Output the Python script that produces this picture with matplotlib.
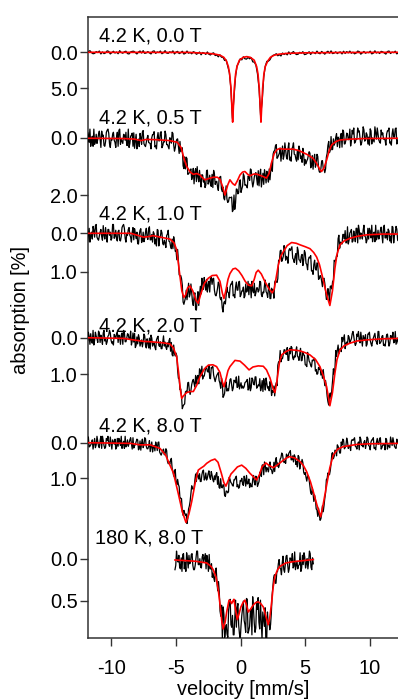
import numpy as np
import matplotlib
matplotlib.use("Agg")
import matplotlib.pyplot as plt

plt.rcParams['font.family'] = ['Liberation Sans', 'DejaVu Sans']

# ---------------- data ----------------
labels = ["4.2 K, 0.0 T", "4.2 K, 0.5 T", "4.2 K, 1.0 T", "4.2 K, 2.0 T", "4.2 K, 8.0 T", "180 K, 8.0 T"]
yticks = [[0.0, 5.0], [0.0, 2.0], [0.0, 1.0], [0.0, 1.0], [0.0, 1.0], [0.0, 0.5]]
xticks = [-10, -5, 0, 5, 10]

# measured absorption [%]; "_a" = even channels, "_b" = odd channels (interleaved)
abs_4K_0T_a = [
    .13, -.08, -.23, .05, .20, .15, -.10, .03, -.18, .23,
    -.05, .18, .08, -.20, -.13, .23, .05, -.15, .10, -.03,
    .20, -.23, .03, .13, -.08, -.15, .18, .23, -.05, -.13,
    -.15, .05, .23, -.03, -.18, .10, -.23, .15, .08, -.10,
    .08, .23, -.13, -.20, .15, -.05, .03, -.18, .20, .05,
    -.23, .10, .15, -.08, .05, -.20, .23, -.03, -.13, .18,
    .06, -.15, .24, .14, -.18, .13, .01, .21, -.08, .00,
    .27, .15, -.04, .35, .03, .11, .29, -.05, .28, .37,
    .15, .08, .45, .38, .63, .35, .68, .70, 1.13, 1.07,
    1.95, 2.77, 4.92, 9.20, 6.32, 3.33, 1.87, 1.45, 0.90, 1.05,
    .62, .90, .95, .72, .90, .75, 1.33, 1.37, 1.77, 2.98,
    5.00, 8.77, 6.83, 3.43, 1.92, 1.25, 1.23, 1.03, .60, .42,
    .35, .20, .48, .33, .51, .10, .30, .15, .36, -.06,
    .28, .06, -.10, .17, .32, .26, .00, .13, -.09, .32,
    .26, .13, -.08, .30, -.03, .03, .19, -.17, .13, .20,
    -.12, .08, .26, .00, -.15, .13, -.20, .18, .11, -.07,
    .18, .00, -.05, .23, -.15, .16, -.10, .08, -.17, .13,
    -.02, .21, .11, -.17, -.10, .26, .08, -.12, .13, .00,
    .05, -.16, .22, .12, -.21, .10, -.03, .17, -.13, -.06,
    .10, .25, -.11, -.18, .17, -.03, .05, -.16, .22, .07]
abs_4K_0T_b = None

abs_4K_05T_a = [
    .20, -.09, -.30, .09, .30, .23, -.12, .06, -.23, .34,
    -.05, .27, .13, -.26, -.16, .34, .09, -.19, .16, -.02,
    .30, -.30, .06, .20, -.09, -.19, .27, .34, -.05, -.16,
    -.17, .12, .39, .05, -.15, .23, -.25, .27, .17, -.08,
    .18, .39, -.11, -.21, .28, .00, .11, -.18, .35, .15,
    -.23, .24, .31, .00, .19, -.15, .47, .14, .04, .55,
    .49, .35, 1.08, 1.09, .73, 1.26, 1.13, 1.46, 1.07, 1.19,
    1.53, 1.37, 1.14, 1.72, 1.31, 1.46, 1.66, 1.13, 1.53, 1.63,
    1.28, 1.14, 1.63, 1.52, 1.84, 1.37, 1.79, 1.73, 2.17, 1.68,
    2.26, 2.08, 2.09, 2.58, 2.00, 2.28, 1.80, 1.92, 1.47, 1.79,
    1.26, 1.66, 1.69, 1.34, 1.49, 1.12, 1.72, 1.36, 1.22, 1.65,
    1.68, 1.10, 1.49, 1.63, 1.31, 1.17, 1.55, 1.47, .88, .57,
    .46, .24, .68, .54, .82, .29, .61, .43, .75, .18,
    .68, .39, .18, .59, .82, .77, .44, .64, .37, .96,
    .91, .75, .49, 1.05, .62, .76, 1.03, .58, 1.06, 1.21,
    .81, 1.07, 1.22, .68, .27, .52, -.04, .41, .26, -.02,
    .31, .04, -.05, .33, -.21, .21, -.16, .07, -.30, .10,
    -.13, .19, .05, -.34, -.24, .26, .01, -.27, .08, -.10,
    -.02, -.31, .22, .08, -.38, .05, -.13, .15, -.27, -.17,
    .05, .26, -.24, -.34, .15, -.13, -.02, -.31, .22, .01]
abs_4K_05T_b = [
    -.19, .16, .30, -.05, -.30, .13, .20, -.12, .06, -.23,
    -.09, .30, -.19, -.30, .20, .06, -.12, .09, .34, -.19,
    -.26, .23, .13, -.12, .09, .27, -.30, .20, -.09, .30,
    .37, -.12, .15, .31, -.01, -.20, .21, .31, .02, .17,
    .21, .00, -.11, .32, .39, -.18, .11, -.21, .28, .15,
    -.11, .24, .39, .05, -.19, .25, .35, .06, .30, .13,
    .42, .98, .67, .68, 1.28, 1.22, 1.09, 1.34, 1.61, 1.08,
    1.01, 1.54, 1.49, 1.29, 1.55, 1.74, 1.15, 1.62, 1.31, 1.70,
    1.74, 1.26, 1.54, 1.71, 1.44, 1.35, 1.88, 2.11, 1.92, 2.14,
    2.23, 2.09, 2.07, 2.53, 2.50, 1.79, 1.96, 1.52, 1.91, 1.69,
    1.34, 1.64, 1.75, 1.37, 1.09, 1.51, 1.58, 1.26, 1.44, 1.15,
    1.30, 1.72, 1.24, 1.12, 1.58, 1.38, 1.09, 1.12, 1.17, .47,
    .28, .72, .61, .36, .57, .75, .18, .68, .39, .78,
    .82, .32, .58, .74, .44, .29, .73, .86, .59, .76,
    .81, .62, .54, 1.00, 1.10, .58, .92, .65, 1.19, 1.08,
    .80, 1.09, 1.09, .55, .13, .44, .42, .04, .18, -.14,
    -.02, .35, -.15, -.27, .22, .07, -.13, .06, .29, -.26,
    -.34, .15, .05, -.20, .01, .19, -.38, .12, -.17, .22,
    .26, -.24, .01, .15, -.17, -.34, .08, .19, -.10, .05,
    .08, -.13, -.24, .19, .26, -.31, -.02, -.34, .15, .01]

abs_4K_1T_a = [
    -.15, .05, .23, -.03, -.18, .10, -.23, .15, .08, -.10,
    .18, .05, -.15, .23, -.10, -.03, .13, -.23, .08, .15,
    -.05, .18, .08, -.20, -.13, .23, .05, -.15, .10, -.03,
    .17, .00, -.03, .28, -.08, .24, -.03, .13, -.13, .16,
    -.17, .17, .23, .01, .15, -.10, .33, .08, -.01, .30,
    .26, .06, -.08, .22, .40, .40, .22, .45, .42, 1.08,
    1.10, 1.35, 1.85, 1.68, 1.73, 1.30, 1.58, 1.55, 1.88, 1.55,
    2.00, 1.52, 1.63, 1.58, 1.27, 1.15, 1.48, 1.53, 1.25, 1.17,
    1.33, 1.17, 1.60, 1.55, 1.27, 1.66, 1.67, 2.05, 1.77, 1.62,
    1.53, 1.68, 1.32, 1.25, 1.60, 1.40, 1.48, 1.27, 1.65, 1.50,
    1.40, 1.63, 1.53, 1.25, 1.32, 1.68, 1.50, 1.30, 1.55, 1.42,
    1.48, 1.27, 1.65, 1.55, 1.22, 1.56, 1.45, 1.70, 1.43, 1.47,
    1.27, 1.25, 1.18, .72, .44, .68, .32, .70, .63, .45,
    .45, .35, .68, .60, .81, .45, .70, .59, .84, .45,
    .78, .95, .62, .58, .97, .81, .93, .77, 1.20, 1.10,
    1.25, 1.19, 1.30, 1.72, 1.44, 1.78, 1.37, 1.25, .70, .70,
    .60, .05, .23, .28, .03, -.07, .24, .28, -.01, -.10,
    .20, .07, -.13, .25, -.08, -.01, .15, -.21, .10, .17,
    .15, -.06, -.21, .07, .22, .17, -.08, .05, -.16, .25,
    -.21, .12, .17, -.06, .07, -.18, .25, -.01, -.11, .20]
abs_4K_1T_b = [
    .23, -.13, .05, .15, -.08, -.20, .10, .18, -.03, .08,
    -.20, .15, .08, -.10, .05, .18, -.23, .13, -.08, .20,
    -.08, .20, -.15, -.23, .13, .03, -.10, .05, .23, -.15,
    -.12, .14, .27, .04, -.12, .19, .22, -.02, .10, -.12,
    .17, .03, -.04, .28, .33, -.08, .14, -.08, .27, .18,
    .37, .02, .21, .34, .15, .09, .47, .69, .70, 1.11,
    1.18, 1.79, 1.77, 1.48, 1.53, 1.66, 1.32, 1.78, 1.66, 1.99,
    1.70, 1.88, 1.38, 1.17, 1.46, 1.33, 1.20, 1.35, 1.53, 1.15,
    1.18, 1.48, 1.63, 1.43, 1.31, 1.73, 1.94, 1.81, 1.84, 1.40,
    1.55, 1.40, 1.32, 1.63, 1.68, 1.27, 1.48, 1.25, 1.60, 1.50,
    1.68, 1.32, 1.50, 1.60, 1.37, 1.25, 1.55, 1.63, 1.42, 1.53,
    1.25, 1.60, 1.53, 1.35, 1.52, 1.67, 1.30, 1.70, 1.49, 1.69,
    1.23, 1.28, .70, .46, .73, .60, .45, .60, .78, .40,
    .40, .65, .76, .53, .36, .69, .76, .55, .70, .51,
    .81, .69, .64, .98, 1.07, .70, .96, .78, 1.18, 1.13,
    1.39, 1.17, 1.50, 1.72, 1.56, 1.38, 1.45, 1.23, .72, .58,
    .14, .39, .26, .03, .15, .25, -.17, .18, -.04, .23,
    -.06, .22, -.13, -.21, .15, .05, -.08, .07, .25, -.13,
    -.13, .12, .22, -.03, -.21, .10, .15, -.08, .05, -.16,
    .12, -.03, -.11, .20, .25, -.16, .05, -.18, .17, .07]

abs_4K_2T_a = [
    .02, -.15, .18, .09, -.20, .07, -.04, .13, -.13, -.07,
    .18, -.20, .02, .11, -.07, -.13, .15, .20, -.04, -.11,
    .13, -.02, -.07, .18, -.15, .11, -.11, .04, -.18, .09,
    .12, .27, -.02, -.08, .23, .06, .12, -.05, .28, .14,
    .01, -.07, .23, .14, .33, .00, .21, .11, .30, -.05,
    .12, .32, .25, .02, .13, .50, .44, .42, .89, 1.13,
    1.40, 1.94, 1.83, 1.48, 1.49, 1.22, 1.55, 1.28, 1.14, 1.35,
    1.26, 1.03, .85, 1.04, 1.13, 1.05, .81, .92, .75, 1.12,
    .82, 1.02, 1.20, 1.03, .95, 1.24, 1.10, 1.63, 1.52, 1.21,
    1.40, 1.29, 1.12, 1.45, 1.16, 1.23, 1.36, 1.05, 1.32, 1.38,
    1.38, 1.23, 1.18, 1.43, 1.10, 1.36, 1.14, 1.29, 1.07, 1.34,
    1.32, 1.45, 1.17, 1.12, 1.43, 1.26, 1.34, 1.20, 1.58, 1.49,
    1.59, 1.23, .75, .66, .66, .57, .33, .44, .27, .62,
    .44, .27, .60, .53, .25, .53, .44, .63, .39, .48,
    .75, .40, .64, .76, .61, .59, .91, 1.00, .81, .81,
    .89, .87, 1.31, 1.37, 1.75, 1.59, 1.67, 1.16, 1.00, .35,
    .34, .43, .29, -.01, .02, .30, .12, -.06, .15, .03,
    -.17, .12, .16, -.04, .07, -.15, .23, .01, -.08, .18,
    -.10, .07, .23, .01, -.12, .12, -.17, .16, .10, -.06,
    .18, .07, -.10, .23, -.06, .01, .14, -.17, .10, .16]
abs_4K_2T_b = [
    .09, -.04, -.11, .15, .20, -.15, .02, -.18, .13, .04,
    -.13, .09, .18, -.04, -.20, .07, .11, -.09, .02, -.15,
    -.07, .18, -.13, -.20, .11, .02, -.09, .04, .20, -.13,
    -.12, .21, .17, .01, .14, .25, -.10, .21, .03, .28,
    .31, .01, .16, .26, .06, -.04, .24, .30, .13, .23,
    .26, .14, .08, .37, .47, .20, .50, .50, 1.11, 1.42,
    1.60, 1.87, 1.81, 1.46, 1.23, 1.45, 1.44, 1.19, 1.25, 1.03,
    1.06, 1.26, .90, .78, 1.05, .93, .81, .94, 1.11, .81,
    .79, 1.12, 1.10, .99, 1.17, 1.38, 1.20, 1.59, 1.31, 1.46,
    1.45, 1.14, 1.29, 1.38, 1.18, 1.07, 1.34, 1.40, 1.23, 1.32,
    1.34, 1.21, 1.14, 1.40, 1.45, 1.10, 1.27, 1.07, 1.38, 1.29,
    1.12, 1.36, 1.47, 1.26, 1.10, 1.38, 1.45, 1.29, 1.45, 1.32,
    1.32, 1.31, .66, .35, .57, .45, .33, .46, .62, .29,
    .24, .55, .50, .36, .50, .62, .29, .62, .47, .74,
    .79, .50, .68, .80, .63, .56, .87, .98, .87, 1.02,
    1.11, 1.09, 1.17, 1.60, 1.84, 1.51, 1.42, .85, .83, .51,
    .20, .34, .38, .11, -.08, .16, .19, -.02, .08, -.11,
    -.04, .21, -.10, -.17, .14, .05, -.06, .07, .23, -.10,
    -.15, .16, .10, -.06, .07, .18, -.17, .14, -.04, .21,
    .23, -.08, .07, .16, -.04, -.15, .12, .18, .01, .10]

abs_4K_8T_a = [
    -.08, -.16, .10, .02, .18, -.12, .06, -.04, .14, -.18,
    -.18, .08, .12, -.06, .04, -.16, .18, -.02, -.10, .14,
    .10, -.06, -.18, .04, .16, .12, -.08, .02, -.14, .18,
    .15, .05, -.10, .20, -.05, .01, .14, -.14, .11, .17,
    -.06, .11, .26, .08, -.02, .22, -.02, .31, .28, .18,
    .32, .22, .59, .60, .44, .80, .82, 1.12, 1.03, 1.24,
    1.56, 1.93, 1.90, 2.04, 2.27, 1.86, 1.64, 1.21, 1.31, 1.06,
    1.09, .92, .87, 1.09, .80, 1.05, .85, .99, .79, 1.03,
    .91, 1.10, 1.04, .84, .95, 1.28, 1.24, 1.18, 1.48, 1.36,
    1.41, .97, 1.12, 1.20, 1.04, .98, 1.24, 1.28, 1.06, 1.00,
    1.20, 1.04, .92, 1.14, 1.26, 1.22, 1.02, 1.12, .94, 1.23,
    1.09, .86, .63, .90, .64, .70, .82, .54, .76, .80,
    .81, .42, .57, .62, .42, .33, .56, .58, .36, .30,
    .22, .48, .54, .39, .52, .36, .74, .58, .56, .89,
    .97, .93, 1.04, 1.41, 1.26, 1.65, 1.60, 1.89, 1.84, 2.18,
    2.01, 1.94, 1.56, 1.04, .85, .90, .59, .28, .38, .22,
    .06, .18, .29, .07, -.07, .14, -.13, .16, .10, -.05,
    -.06, -.14, .12, .04, .20, -.10, .08, -.02, .16, -.16,
    .08, .20, -.08, -.14, .14, -.02, .04, -.12, .18, .06,
    .04, -.12, .18, .10, -.16, .08, -.02, .14, -.10, -.04]
abs_4K_8T_b = [
    -.16, .12, .06, -.08, .04, .14, -.18, .10, -.06, .16,
    -.06, .16, -.12, -.18, .10, .02, -.08, .04, .18, -.12,
    -.12, .08, .16, -.04, -.18, .06, .10, -.08, .02, -.14,
    .09, -.02, -.08, .17, .21, -.10, .06, -.11, .17, .10,
    .25, -.02, .13, .23, .07, -.01, .26, .35, .22, .34,
    .17, .52, .54, .49, .72, .94, .75, 1.18, 1.17, 1.56,
    1.57, 2.04, 1.98, 2.00, 2.13, 1.78, 1.41, 1.29, 1.27, .88,
    .84, 1.02, 1.09, .90, .77, 1.01, 1.05, .87, .97, .81,
    1.04, .93, .89, 1.17, 1.26, 1.01, 1.27, 1.19, 1.51, 1.36,
    1.38, 1.03, 1.14, 1.22, 1.04, .94, 1.18, 1.24, 1.08, 1.16,
    .94, 1.22, 1.16, 1.02, 1.14, 1.24, .92, 1.19, 1.01, 1.16,
    .83, .95, .62, .54, .82, .74, .64, .75, .87, .55,
    .51, .66, .70, .46, .29, .50, .51, .32, .42, .26,
    .48, .37, .34, .61, .68, .40, .60, .47, .83, .84,
    1.08, .93, 1.22, 1.45, 1.42, 1.47, 1.86, 2.07, 2.03, 2.14,
    1.77, 1.77, 1.41, 1.00, .88, .78, .30, .45, .21, .37,
    .10, .29, -.02, -.10, .17, .08, -.03, .08, .22, -.09,
    -.10, .10, .18, -.02, -.16, .08, .12, -.06, .04, -.12,
    .10, -.02, -.08, .16, .20, -.12, .04, -.14, .14, .06,
    .20, -.08, .06, .14, -.04, -.14, .10, .16, .00, .08]

abs_180K_8T_a = [
    .13, -.09, .04, .10, -.01, -.05, .12, .15, .00, -.04,
    .04, -.06, .13, .08, -.09, .07, .00, .11, -.05, -.01,
    .12, .02, -.05, .12, .22, .23, .15, .27, .27, .62,
    .55, .57, .93, .78, .93, .52, .78, .67, .90, .49,
    .58, .79, .95, .67, .50, .78, .47, .88, .80, .60,
    .45, .76, .82, .60, .75, .49, .95, .71, .58, .96,
    .77, .84, .64, .32, .19, .29, .15, .01, .12, .05,
    .13, .07, -.04, .16, -.01, .03, .11, -.08, .08, .12,
    .07, .15, -.04, -.07, .11, .00, .04, -.06, .13, .06]
abs_180K_8T_b = [
    .08, .00, -.04, .12, .15, -.06, .04, -.07, .11, .06,
    -.05, .08, .13, .00, -.09, .07, .10, -.02, .04, -.06,
    -.04, .15, .12, .06, .17, .27, .11, .38, .39, .68,
    .95, .66, .83, .89, .61, .48, .81, .90, .69, .81,
    .53, .89, .79, .59, .73, .87, .48, .85, .63, .90,
    .59, .87, .51, .46, .83, .74, .63, .80, 1.00, .63,
    .74, .78, .43, .22, .29, .16, .06, .11, .19, -.03,
    .16, -.03, .07, .12, .00, -.06, .09, .13, .03, .08,
    -.07, .11, .07, -.02, .06, .12, -.09, .10, -.01]

# velocity range of the even channels [mm/s]
v_range_4K = (-11.9, 12.2)
v_range_180K = (-5.08, 5.62)

# fitted curves (velocity [mm/s], absorption [%])
fit_v_0T = [-11.9, -4.0, -2.5, -2.0, -1.6, -1.3, -1.1, -0.95, -0.85, -0.75, -0.68, -0.62, -0.56, -0.49,
            -0.39, -0.29, -0.1, 0.2, 0.47, 0.75, 1.05, 1.24, 1.34, 1.44, 1.51, 1.57, 1.63, 1.70, 1.80,
            1.90, 2.1, 2.3, 2.6, 3.0, 3.6, 5.0, 8.0, 12.2]
fit_a_0T = [0.0, 0.02, 0.15, 0.25, 0.4, 0.7, 1.2, 2.0, 3.0, 5.0, 7.5, 9.7, 7.5, 5.0,
            3.0, 2.0, 1.1, 0.7, 0.6, 0.7, 1.1, 2.0, 3.0, 5.0, 7.5, 9.7, 7.5, 5.0, 3.0,
            2.0, 1.2, 0.7, 0.4, 0.25, 0.15, 0.07, 0.03, 0.0]

fit_v_05T = [-11.9, -9.0, -8.2, -7.7, -7.3, -6.5, -5.5, -4.9, -4.6, -4.4, -4.18, -3.9, -3.66, -3.4,
             -3.15, -2.95, -2.76, -2.5, -2.12, -1.8, -1.6, -1.4, -1.21, -1.0, -0.83, -0.62, -0.44,
             -0.25, -0.05, 0.15, 0.33, 0.55, 0.72, 1.0, 1.24, 1.6, 2.0, 2.2, 2.4, 2.6, 2.8, 3.0,
             3.3, 3.7, 4.07, 4.5, 4.84, 5.2, 5.6, 5.85, 6.0, 6.15, 6.26, 6.45, 6.65, 6.85, 7.04,
             7.35, 7.68, 8.45, 9.5, 12.2]
fit_a_05T = [0.02, 0.03, 0.05, 0.1, 0.06, 0.07, 0.1, 0.16, 0.35, 0.7, 1.0, 1.2, 1.28, 1.25,
             1.3, 1.4, 1.47, 1.43, 1.38, 1.38, 1.45, 1.7, 2.0, 1.65, 1.47, 1.6, 1.66,
             1.5, 1.3, 1.2, 1.18, 1.28, 1.33, 1.27, 1.27, 1.33, 1.41, 1.25, 0.85, 0.55, 0.42, 0.38,
             0.40, 0.40, 0.40, 0.45, 0.52, 0.6, 0.72, 0.88, 1.0, 1.13, 1.18, 1.05, 0.78, 0.45, 0.25,
             0.14, 0.08, 0.05, 0.03, 0.02]

fit_v_1T = [-11.9, -8.5, -8.0, -7.5, -7.0, -6.8, -6.2, -5.47, -5.15, -4.95, -4.83, -4.7, -4.55, -4.4,
            -4.25, -4.1, -3.92, -3.7, -3.45, -3.28, -3.1, -2.8, -2.5, -2.2, -1.86, -1.6, -1.42,
            -1.29, -1.15, -0.98, -0.83, -0.6, -0.4, -0.15, 0.1, 0.35, 0.6, 0.85, 1.05, 1.2, 1.36,
            1.6, 1.88, 2.2, 2.45, 2.6, 2.75, 2.91, 3.1, 3.3, 3.6, 3.94, 4.3, 4.59, 5.0, 5.36, 5.65,
            5.88, 6.1, 6.39, 6.65, 6.9, 7.1, 7.29, 7.45, 7.68, 8.0, 8.45, 9.0, 9.74, 11.0, 12.2]
fit_a_1T = [0.0, 0.0, 0.05, 0.1, 0.08, 0.06, 0.1, 0.15, 0.25, 0.43, 0.75, 1.1, 1.5, 1.67,
            1.6, 1.42, 1.37, 1.5, 1.75, 1.82, 1.6, 1.3, 1.17, 1.1, 1.09, 1.25, 1.55,
            1.7, 1.5, 1.2, 1.05, 0.93, 0.91, 0.98, 1.1, 1.25, 1.35, 1.37, 1.2, 1.02, 0.96,
            1.06, 1.26, 1.45, 1.55, 1.45, 1.15, 0.83, 0.6, 0.48, 0.32, 0.24, 0.26, 0.30, 0.35, 0.40, 0.50,
            0.62, 0.82, 1.22, 1.6, 1.88, 1.5, 0.91, 0.55, 0.30, 0.2, 0.13, 0.08, 0.04, 0.02, 0.02]

fit_v_2T = [-11.9, -9.0, -8.5, -7.5, -7.0, -6.0, -5.47, -5.2, -4.95, -4.8, -4.65, -4.56, -4.45, -4.18,
            -3.9, -3.66, -3.4, -3.15, -2.8, -2.5, -2.15, -1.86, -1.6, -1.42, -1.29, -1.15, -0.98,
            -0.83, -0.44, -0.05, 0.3, 0.65, 0.95, 1.36, 1.75, 2.0, 2.27, 2.5, 2.65, 2.8, 3.0, 3.17,
            3.5, 3.81, 4.2, 4.59, 5.0, 5.36, 5.8, 6.13, 6.4, 6.65, 6.9, 7.1, 7.29, 7.45, 7.68, 8.0,
            8.45, 9.0, 9.74, 11.0, 12.2]
fit_a_2T = [0.0, 0.02, 0.05, 0.1, 0.11, 0.14, 0.17, 0.28, 0.52, 0.95, 1.45, 1.66, 1.6, 1.5,
            1.47, 1.47, 1.3, 1.07, 0.85, 0.75, 0.74, 0.79, 0.95, 1.2, 1.34, 1.15, 0.9,
            0.79, 0.62, 0.64, 0.75, 0.88, 0.8, 0.77, 0.78, 0.88, 1.1, 1.38, 1.5, 1.2, 0.68, 0.47,
            0.38, 0.33, 0.34, 0.36, 0.41, 0.47, 0.6, 0.79, 1.05, 1.34, 1.86, 1.5, 0.97, 0.6, 0.34, 0.22,
            0.15, 0.09, 0.06, 0.03, 0.02]

fit_v_8T = [-11.9, -8.5, -7.8, -7.0, -6.24, -5.8, -5.47, -5.2, -4.83, -4.5, -4.23, -4.0, -3.79, -3.5,
            -3.28, -3.1, -2.85, -2.63, -2.3, -1.99, -1.75, -1.5, -1.3, -1.14, -0.95, -0.75, -0.57,
            -0.25, 0.08, 0.4, 0.72, 1.0, 1.24, 1.45, 1.65, 1.95, 2.2, 2.52, 2.85, 3.17, 3.5, 3.75,
            4.2, 4.59, 4.85, 5.1, 5.4, 5.62, 5.9, 6.19, 6.4, 6.65, 6.9, 7.16, 7.5, 7.94, 8.97, 10.0,
            12.2]
fit_a_8T = [0.0, 0.02, 0.06, 0.06, 0.16, 0.35, 0.63, 0.85, 1.42, 1.95, 2.24, 2.0, 1.66, 1.1,
            0.77, 0.72, 0.66, 0.58, 0.5, 0.46, 0.55, 0.85, 1.12, 1.22, 1.05, 0.88, 0.81,
            0.68, 0.63, 0.72, 0.86, 0.96, 1.05, 0.9, 0.68, 0.57, 0.64, 0.70, 0.62, 0.53, 0.44, 0.39,
            0.43, 0.53, 0.64, 0.81, 1.1, 1.38, 1.75, 2.08, 1.7, 1.19, 0.7, 0.35, 0.18, 0.11, 0.05, 0.03,
            0.02]

fit_v_180K = [-5.08, -3.5, -2.63, -2.3, -2.12, -1.9, -1.73, -1.55, -1.45, -1.35, -1.2, -1.08, -0.9,
              -0.8, -0.7, -0.6, -0.52, -0.4, -0.26, -0.12, 0.02, 0.18, 0.33, 0.46, 0.59, 0.75, 0.97,
              1.15, 1.36, 1.55, 1.75, 1.95, 2.13, 2.25, 2.4, 2.52, 2.65, 2.85, 3.04, 3.5, 4.07, 5.62]
fit_a_180K = [0.015, 0.03, 0.05, 0.09, 0.13, 0.22, 0.37, 0.6, 0.75, 0.83, 0.75, 0.63, 0.49,
              0.5, 0.53, 0.5, 0.48, 0.6, 0.72, 0.65, 0.57, 0.52, 0.49, 0.55, 0.63, 0.6, 0.55,
              0.52, 0.51, 0.53, 0.57, 0.68, 0.78, 0.7, 0.51, 0.33, 0.21, 0.13, 0.09, 0.05, 0.035, 0.01]

measured = [(abs_4K_0T_a, abs_4K_0T_b), (abs_4K_05T_a, abs_4K_05T_b), (abs_4K_1T_a, abs_4K_1T_b),
            (abs_4K_2T_a, abs_4K_2T_b), (abs_4K_8T_a, abs_4K_8T_b), (abs_180K_8T_a, abs_180K_8T_b)]
ranges = [v_range_4K] * 5 + [v_range_180K]
fits = [(fit_v_0T, fit_a_0T), (fit_v_05T, fit_a_05T), (fit_v_1T, fit_a_1T),
        (fit_v_2T, fit_a_2T), (fit_v_8T, fit_a_8T), (fit_v_180K, fit_a_180K)]


def channels(even, odd, vrange):
    """Merge even/odd channel sets and return (velocity, absorption)."""
    even = np.asarray(even, float)
    n = len(even)
    step = (vrange[1] - vrange[0]) / (n - 1)
    if odd is None:
        return vrange[0] + np.arange(n) * step, even
    odd = np.asarray(odd, float)
    y = np.empty(n + len(odd))
    y[0::2] = even
    y[1::2] = odd
    return vrange[0] + np.arange(len(y)) * step / 2, y


# ---------------- layout (pixels) ----------------
W, H = 398, 700
L, R, T, B = 87.7, 398.0, 16.7, 638.3
XLIM = (-11.83, 12.17)
# baseline pixel row and pixels per 1 % for each stacked spectrum
baselines = [52.3, 137.7, 233.3, 337.7, 442.7, 558.7]
scales = [7.2, 28.65, 38.4, 36.6, 35.6, 84.6]
label_pos = [(99, 41.7), (99, 123), (99, 220), (99, 332), (99, 432), (95, 544)]

FS = 14.4
SPINE = '#333333'

fig = plt.figure(figsize=(W / 100, H / 100), dpi=100)
rect = [L / W, 1 - B / H, (R - L) / W, (B - T) / H]

main = fig.add_axes(rect)
main.set_xlim(*XLIM)
main.set_ylim(0, 1)
main.set_yticks([])
main.set_xticks(xticks)
main.set_xticklabels([str(t) for t in xticks])
main.tick_params(axis='x', direction='out', length=5.5, width=1.0, pad=9.5,
                 labelsize=FS, color=SPINE)
main.spines['right'].set_visible(False)
for s in ['left', 'top', 'bottom']:
    main.spines[s].set_color(SPINE)
    main.spines[s].set_linewidth(1.1)

for i in range(6):
    ax = fig.add_axes(rect)
    ax.patch.set_visible(False)
    for s in ax.spines.values():
        s.set_visible(False)
    ax.set_xlim(*XLIM)
    ax.tick_params(axis='x', bottom=False, labelbottom=False)
    b, s = baselines[i], scales[i]
    ax.set_ylim((B - b) / s, (T - b) / s)
    ax.set_yticks(yticks[i])
    ax.set_yticklabels([f"{t:.1f}" for t in yticks[i]])
    ax.tick_params(axis='y', direction='out', length=5.5, width=1.0, pad=1.8,
                   labelsize=FS, color=SPINE)
    v, y = channels(measured[i][0], measured[i][1], ranges[i])
    ax.plot(v, y, color='black', lw=0.9)
    ax.plot(fits[i][0], fits[i][1], color='red', lw=1.2)
    lx, ly = label_pos[i]
    fig.text(lx / W, 1 - ly / H, labels[i], fontsize=FS, ha='left', va='baseline')

fig.text(243 / W, 1 - 695 / H, 'velocity [mm/s]', fontsize=FS, ha='center', va='baseline')
fig.text(21 / W, 1 - 310 / H, 'absorption [%]', fontsize=FS, ha='center', va='center',
         rotation=90)

fig.savefig('out.png', dpi=100)
